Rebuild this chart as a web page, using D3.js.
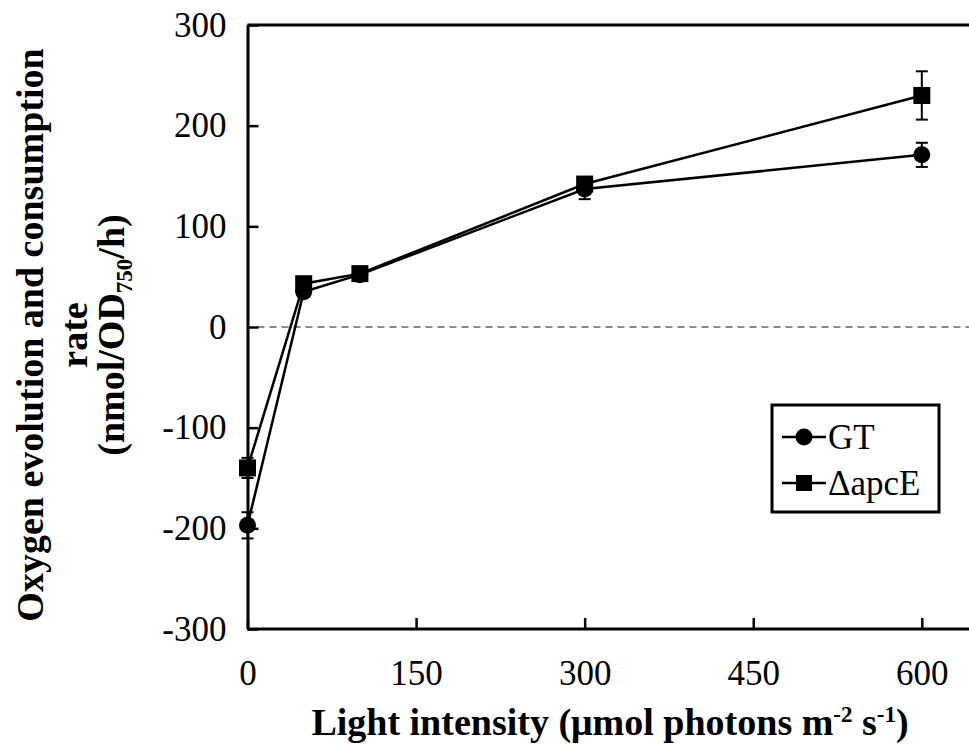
<!DOCTYPE html>
<html>
<head>
<meta charset="utf-8">
<script src="https://d3js.org/d3.v7.min.js"></script>
<style>
  body { margin: 0; background: #fff; }
  text { font-family: "Liberation Serif", "Times New Roman", serif; fill: #000; }
</style>
</head>
<body>
<script>
//light intensity levels
var light = [0, 50, 100, 300, 600];

//GT series and its error
var gtRate = [-197, 35, 52, 137, 171];
var gtErr = [13, 5, 4, 10, 12];

//apcE mutant series and its error
var apcRate = [-140, 43, 53, 142, 230];
var apcErr = [10, 4, 4, 6, 24];

var seriesNames = ["GT", "\u0394apcE"];
var xTicks = [0, 150, 300, 450, 600];
var yTicks = [-300, -200, -100, 0, 100, 200, 300];

//begin drawing
window.onload = drawChart();

function drawChart() {
    var width = 969,
        height = 745;

    var svg = d3.select("body")
        .append("svg")
        .attr("width", width)
        .attr("height", height);

    var x = d3.scaleLinear().domain([0, 650]).range([247.5, 978]);
    var y = d3.scaleLinear().domain([-300, 300]).range([629, 25]);

    //zero line
    svg.append("line")
        .attr("x1", x(0) + 10).attr("x2", width)
        .attr("y1", y(0)).attr("y2", y(0))
        .attr("stroke", "#888").attr("stroke-width", 2)
        .attr("stroke-dasharray", "7,5");

    //top border
    svg.append("line")
        .attr("x1", x(0)).attr("x2", width)
        .attr("y1", y(300)).attr("y2", y(300))
        .attr("stroke", "#000").attr("stroke-width", 3);

    //axes (plain hyphen for negatives, like the original)
    var yAxis = svg.append("g")
        .attr("transform", "translate(" + x(0) + ",0)")
        .call(d3.axisLeft(y).tickValues(yTicks).tickFormat(function(d){ return String(d); })
            .tickSizeInner(-11).tickSizeOuter(0).tickPadding(21));
    var xAxis = svg.append("g")
        .attr("transform", "translate(0," + y(-300) + ")")
        .call(d3.axisBottom(x).tickValues(xTicks).tickFormat(function(d){ return String(d); })
            .tickSizeInner(-11).tickSizeOuter(0).tickPadding(31));

    [xAxis, yAxis].forEach(function(g){
        g.select(".domain").attr("stroke-width", 3);
        g.selectAll(".tick line").attr("stroke-width", 2.5);
        g.selectAll(".tick text")
            .style("font-family", "'Liberation Serif', serif")
            .style("font-size", "35px");
    });
    xAxis.select(".domain").attr("d", "M" + x(0) + ",0H" + width);

    //series data
    var gt = light.map(function(d, i){ return {x: d, y: gtRate[i], e: gtErr[i]}; });
    var apc = light.map(function(d, i){ return {x: d, y: apcRate[i], e: apcErr[i]}; });

    var line = d3.line()
        .x(function(d){ return x(d.x); })
        .y(function(d){ return y(d.y); });

    [gt, apc].forEach(function(s){
        svg.append("path")
            .datum(s)
            .attr("fill", "none")
            .attr("stroke", "#000")
            .attr("stroke-width", 2.5)
            .attr("d", line);

        var eb = svg.selectAll(null)
            .data(s)
            .enter()
            .append("g")
            .attr("stroke", "#000")
            .attr("stroke-width", 2);
        eb.append("line")
            .attr("x1", function(d){ return x(d.x); })
            .attr("x2", function(d){ return x(d.x); })
            .attr("y1", function(d){ return y(d.y - d.e); })
            .attr("y2", function(d){ return y(d.y + d.e); });
        eb.append("line")
            .attr("x1", function(d){ return x(d.x) - 6; })
            .attr("x2", function(d){ return x(d.x) + 6; })
            .attr("y1", function(d){ return y(d.y - d.e); })
            .attr("y2", function(d){ return y(d.y - d.e); });
        eb.append("line")
            .attr("x1", function(d){ return x(d.x) - 6; })
            .attr("x2", function(d){ return x(d.x) + 6; })
            .attr("y1", function(d){ return y(d.y + d.e); })
            .attr("y2", function(d){ return y(d.y + d.e); });
    });

    svg.selectAll(".gtDot")
        .data(gt)
        .enter()
        .append("circle")
        .attr("class", "gtDot")
        .attr("cx", function(d){ return x(d.x); })
        .attr("cy", function(d){ return y(d.y); })
        .attr("r", 8.5);

    svg.selectAll(".apcDot")
        .data(apc)
        .enter()
        .append("rect")
        .attr("class", "apcDot")
        .attr("x", function(d){ return x(d.x) - 8.5; })
        .attr("y", function(d){ return y(d.y) - 8.5; })
        .attr("width", 17)
        .attr("height", 17);

    //legend
    var legend = svg.append("g");
    legend.append("rect")
        .attr("x", 772).attr("y", 405)
        .attr("width", 167).attr("height", 107)
        .attr("fill", "#fff").attr("stroke", "#000").attr("stroke-width", 3);
    seriesNames.forEach(function(name, i){
        var ly = 437 + i * 46;
        legend.append("line")
            .attr("x1", 782).attr("x2", 826)
            .attr("y1", ly).attr("y2", ly)
            .attr("stroke", "#000").attr("stroke-width", 2.5);
        if (i === 0) {
            legend.append("circle").attr("cx", 804).attr("cy", ly).attr("r", 8.5);
        } else {
            legend.append("rect").attr("x", 796).attr("y", ly - 8).attr("width", 16).attr("height", 16);
        }
        legend.append("text")
            .attr("x", 828).attr("y", ly + 12)
            .style("font-size", "35px")
            .text(name);
    });

    //axis titles
    var xTitle = svg.append("text")
        .attr("x", 610).attr("y", 735)
        .attr("text-anchor", "middle")
        .style("font-size", "38px")
        .style("font-weight", "bold");
    xTitle.append("tspan").text("Light intensity (\u03bcmol photons m");
    xTitle.append("tspan").attr("dy", -13).style("font-size", "23px").text("-2");
    xTitle.append("tspan").attr("dy", 13).text(" s");
    xTitle.append("tspan").attr("dy", -13).style("font-size", "23px").text("-1");
    xTitle.append("tspan").attr("dy", 13).text(")");

    var yTitle = svg.append("g")
        .attr("transform", "translate(0,335) rotate(-90)");
    yTitle.append("text")
        .attr("x", 0).attr("y", 43)
        .attr("text-anchor", "middle")
        .style("font-size", "38px").style("font-weight", "bold")
        .text("Oxygen evolution and consumption");
    yTitle.append("text")
        .attr("x", 0).attr("y", 87)
        .attr("text-anchor", "middle")
        .style("font-size", "38px").style("font-weight", "bold")
        .text("rate");
    var t3 = yTitle.append("text")
        .attr("x", 0).attr("y", 124)
        .attr("text-anchor", "middle")
        .style("font-size", "38px").style("font-weight", "bold");
    t3.append("tspan").text("(nmol/OD");
    t3.append("tspan").attr("dy", 8).style("font-size", "23px").text("750");
    t3.append("tspan").attr("dy", -8).text("/h)");
}
</script>
</body>
</html>
